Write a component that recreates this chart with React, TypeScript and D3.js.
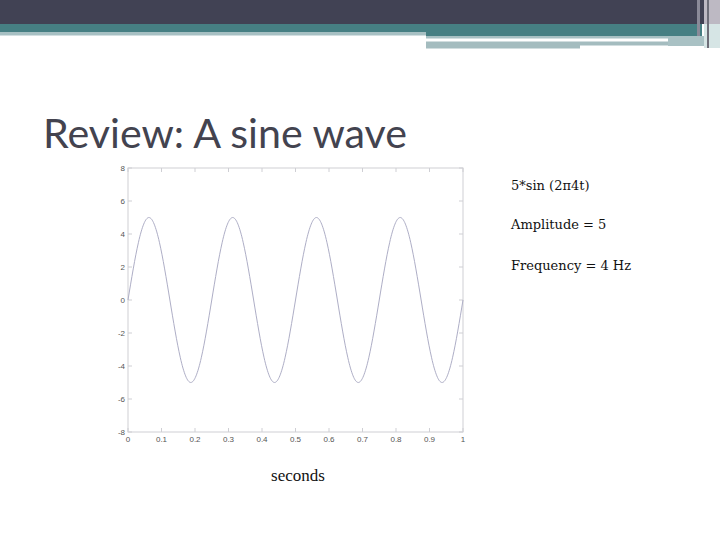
import React from "react"
import * as d3 from "d3"

// samples, every 1/32 s
const times = [0, 0.03125, 0.0625, 0.09375, 0.125, 0.15625, 0.1875, 0.21875,
  0.25, 0.28125, 0.3125, 0.34375, 0.375, 0.40625, 0.4375, 0.46875,
  0.5, 0.53125, 0.5625, 0.59375, 0.625, 0.65625, 0.6875, 0.71875,
  0.75, 0.78125, 0.8125, 0.84375, 0.875, 0.90625, 0.9375, 0.96875, 1]
const amplitudes = [0, 3.5, 5, 3.5, 0, -3.5, -5, -3.5,
  0, 3.5, 5, 3.5, 0, -3.5, -5, -3.5,
  0, 3.5, 5, 3.5, 0, -3.5, -5, -3.5,
  0, 3.5, 5, 3.5, 0, -3.5, -5, -3.5, 0]
const xTicks = [0, 0.1, 0.2, 0.3, 0.4, 0.5, 0.6, 0.7, 0.8, 0.9, 1]
const yTicks = [-8, -6, -4, -2, 0, 2, 4, 6, 8]
const notes = ["5*sin (2π4t)", "Amplitude = 5", "Frequency = 4 Hz"]

const title = "Review: A sine wave"
const xLabel = "seconds"

export default function App() {
  const x = d3.scaleLinear().domain([0, 1]).range([128, 463])
  const y = d3.scaleLinear().domain([-8, 8]).range([432, 168])
  const pts = times.map((t, i) => [t, amplitudes[i]] as [number, number])
  const line = d3.line<[number, number]>()
    .x(d => x(d[0])).y(d => y(d[1]))
    .curve(d3.curveNatural)

  const axisCol = "#cfcfd4"
  const tickFont = "'Liberation Sans', Arial, sans-serif"

  return (
    <svg width={720} height={540} style={{position: "fixed", left: 0, top: 0, background: "#fff"}}>
      {/* slide header bands */}
      <rect x={0} y={0} width={720} height={24} fill="#414254" />
      <rect x={0} y={24} width={426} height={8} fill="#467f83" />
      <rect x={426} y={24} width={276} height={12} fill="#467f83" />
      <rect x={0} y={32} width={426} height={3.5} fill="#a7c0c3" />
      <rect x={426} y={36} width={242} height={2.5} fill="#a7c0c3" />
      <rect x={426} y={41.5} width={154} height={7} fill="#a4bcbf" />
      <rect x={580} y={41.5} width={88} height={4} fill="#a4bcbf" />
      <rect x={668} y={36} width={36} height={10} fill="#a9c1c4" />
      <rect x={697} y={0} width={3} height={36} fill="#8a8a98" />
      <rect x={704} y={0} width={16} height={24} fill="#bdb9c3" />
      <rect x={704} y={24} width={16} height={24} fill="#d6e5e5" />
      <rect x={707} y={0} width={2} height={48} fill="#6d6d78" />

      <text x={43} y={148} fontFamily="Lato, 'Open Sans', sans-serif" fontSize={41}
        fill="#43434f" textLength={364} lengthAdjust="spacingAndGlyphs">{title}</text>

      {/* plot box */}
      <rect x={x(0)} y={y(8)} width={x(1) - x(0)} height={y(-8) - y(8)}
        fill="#fff" stroke={axisCol} strokeWidth={1} />
      {xTicks.map(t => (
        <g key={"x" + t}>
          <line x1={x(t)} x2={x(t)} y1={y(-8)} y2={y(-8) - 4} stroke={axisCol} />
          <line x1={x(t)} x2={x(t)} y1={y(8)} y2={y(8) + 4} stroke={axisCol} />
          <text x={x(t)} y={y(-8) + 10} textAnchor="middle" fontFamily={tickFont}
            fontSize={8} fill="#555">{t}</text>
        </g>
      ))}
      {yTicks.map(v => (
        <g key={"y" + v}>
          <line x1={x(0)} x2={x(0) + 4} y1={y(v)} y2={y(v)} stroke={axisCol} />
          <line x1={x(1)} x2={x(1) - 4} y1={y(v)} y2={y(v)} stroke={axisCol} />
          <text x={x(0) - 3} y={y(v) + 3} textAnchor="end" fontFamily={tickFont}
            fontSize={8} fill="#555">{v}</text>
        </g>
      ))}
      <path d={line(pts) ?? ""} fill="none" stroke="#aeaec6" strokeWidth={1} />

      <text x={298} y={481} textAnchor="middle" fontFamily="'Liberation Serif', serif"
        fontSize={17} fill="#111">{xLabel}</text>

      {notes.map((n, i) => (
        <text key={n} x={511} y={[190, 229, 270][i]} fontFamily="'DejaVu Serif', serif"
          fontSize={13} fill="#111">{n}</text>
      ))}
    </svg>
  )
}
